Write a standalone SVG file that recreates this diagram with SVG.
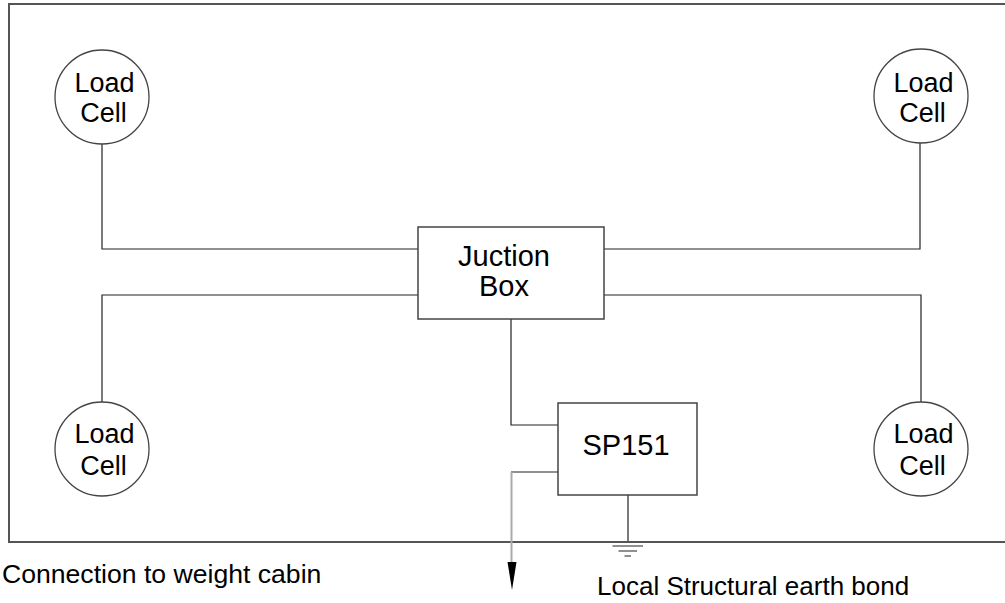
<svg xmlns="http://www.w3.org/2000/svg" width="1005" height="603" viewBox="0 0 1005 603">
<style>
.t{font-family:"Liberation Sans",Arial,sans-serif;fill:#000}
.lc{font-size:27px;text-anchor:middle}
.c{fill:#fff;stroke:#444;stroke-width:1.3}
.b{fill:#fff;stroke:#444;stroke-width:1.5}
.w{fill:none;stroke:#222;stroke-width:1.2}
</style>
<rect width="1005" height="603" fill="#fff"/>
<rect x="9" y="4" width="1010" height="538" fill="none" stroke="#555" stroke-width="2"/>
<g id="connectors">
<path class="w" d="M102,144 V249 H418"/>
<path class="w" d="M920,143 V249 H604"/>
<path class="w" d="M102,402 V295 H418"/>
<path class="w" d="M921,402 V295 H604"/>
<path class="w" d="M511,319 V425 H558"/>
<path class="w" d="M558,472 H511"/>
<path d="M511.5,472 V563" fill="none" stroke="#aaa" stroke-width="2"/>
<polygon points="507.5,562 516.5,562 512,590" fill="#000"/>
<path class="w" d="M628,495 V541"/>
<path class="w" d="M612.5,546 H643 M618.5,551 H637 M624.5,556 H631"/>
</g>
<g id="loadcell-tl">
<circle class="c" cx="102" cy="97" r="47"/>
<text class="t lc" x="104.5" y="92">Load</text>
<text class="t lc" x="103.5" y="122">Cell</text>
</g>
<g id="loadcell-tr">
<circle class="c" cx="921" cy="96" r="47"/>
<text class="t lc" x="923.5" y="92">Load</text>
<text class="t lc" x="922.5" y="122">Cell</text>
</g>
<g id="loadcell-bl">
<circle class="c" cx="102" cy="449" r="47"/>
<text class="t lc" x="104.5" y="443">Load</text>
<text class="t lc" x="103.5" y="475">Cell</text>
</g>
<g id="loadcell-br">
<circle class="c" cx="921" cy="449" r="47"/>
<text class="t lc" x="923.5" y="443">Load</text>
<text class="t lc" x="922.5" y="475">Cell</text>
</g>
<g id="junction-box">
<rect class="b" x="418" y="227" width="186" height="92"/>
<text class="t" x="504" y="266" font-size="29" text-anchor="middle">Juction</text>
<text class="t" x="504" y="296" font-size="29" text-anchor="middle">Box</text>
</g>
<g id="sp151">
<rect class="b" x="558" y="403" width="139" height="92"/>
<text class="t" x="626" y="455" font-size="29" text-anchor="middle">SP151</text>
</g>
<g id="labels">
<text class="t" x="2" y="583" font-size="26.6">Connection to weight cabin</text>
<text class="t" x="597" y="595" font-size="26">Local Structural earth bond</text>
</g>
</svg>
